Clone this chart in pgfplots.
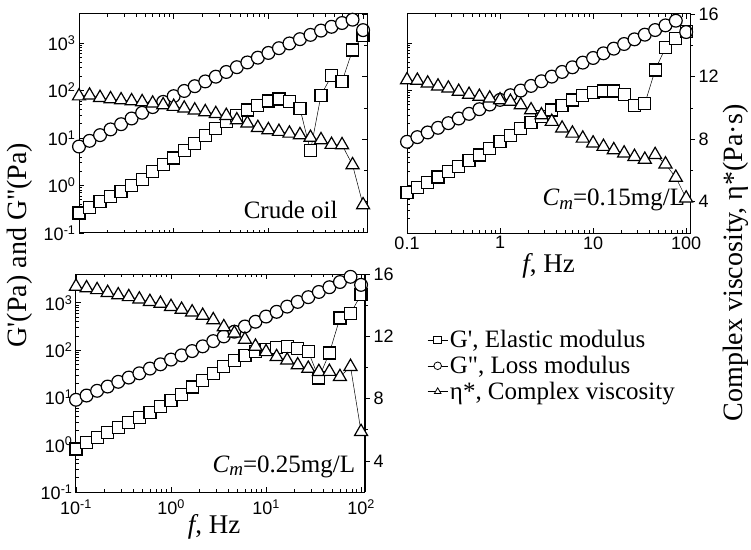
\documentclass[border=0pt]{standalone}
\usepackage{pgfplots}
\usepackage{pgfplotstable}
\pgfplotsset{compat=1.18}
\usepackage{fontspec}
\setmainfont{Liberation Serif}
\newfontfamily\arial{Liberation Sans}

\pgfplotstableread{
f Gp Gpp eta
0.1 0.263 6.61 10.75
0.1292 0.347 8.71 10.80
0.1668 0.457 11.48 10.65
0.2154 0.589 15.14 10.57
0.2783 0.759 19.5 10.50
0.3594 1.0 25.7 10.44
0.4642 1.349 33.9 10.38
0.5995 1.995 44.7 10.29
0.7743 2.754 57.5 10.18
1 3.802 75.9 10.08
1.292 5.495 97.7 9.97
1.668 7.762 123 9.85
2.154 11.22 155 9.74
2.783 15.85 195 9.62
3.594 21.88 245 9.50
4.642 30.2 309 9.22
5.995 38.9 389 9.01
7.743 48.98 490 8.73
10 60.26 617 8.59
12.92 66.07 776 8.48
16.68 58.88 977 8.37
21.54 41.69 1202 8.27
27.83 5.37 1479 8.10
35.94 79.43 1820 7.95
46.42 204.2 2188 7.65
59.95 154.9 2630 7.63
77.43 707.9 3090 6.35
100 1413 1862 3.79
}\tltab

\pgfplotstableread{
f Gp Gpp eta
0.1 0.708 8.32 11.78
0.1292 0.912 10.42 11.75
0.1668 1.175 13.06 11.57
0.2154 1.514 16.37 11.38
0.2783 1.950 20.51 11.25
0.3594 2.512 25.70 11.04
0.4642 3.311 32.21 10.85
0.5995 4.365 40.36 10.72
0.7743 6.026 50.58 10.61
1 8.318 63.39 10.50
1.292 11.48 79.43 10.40
1.668 15.85 99.5 10.18
2.154 21.38 124.7 9.86
2.783 28.84 156.3 9.54
3.594 38.9 195.9 9.12
4.642 48.98 245.5 8.69
5.995 63.1 307.6 8.37
7.743 79.43 385.5 8.05
10 91.2 483.1 7.74
12.92 97.7 605.3 7.52
16.68 97.7 758.6 7.31
21.54 83.2 950.6 7.10
27.83 48.98 1191 6.88
35.94 52.5 1493 6.70
46.42 269.2 1871 7.00
59.95 794.3 2344 6.40
77.43 1259 2938 5.55
100 1738 1698 4.22
}\trtab

\pgfplotstableread{
f Gp Gpp eta
0.1 0.813 8.91 15.2
0.1292 1.096 10.96 15.1
0.1668 1.413 13.80 14.98
0.2154 1.820 16.98 14.8
0.2783 2.291 21.38 14.65
0.3594 2.951 26.30 14.53
0.4642 3.715 32.36 14.38
0.5995 4.786 40.74 14.22
0.7743 6.31 50.12 14.1
1 8.51 63.10 13.9
1.292 11.75 77.62 13.72
1.668 16.6 95.5 13.55
2.154 22.9 120.2 13.33
2.783 32.4 154.9 13.05
3.594 44.7 195 12.6
4.642 60.3 245.5 12.2
5.995 75.9 316.2 11.8
7.743 93.3 398.1 11.35
10 104.7 512.9 11.0
12.92 114.8 645.7 10.68
16.68 120.2 831.8 10.46
21.54 109.6 1047 10.15
27.83 93.3 1318 9.93
35.94 25.7 1698 9.72
46.42 87.1 2138 9.73
59.95 478.6 2754 9.4
77.43 602.6 3548 10.05
100 1479 2399 5.87
}\bltab

\tikzset{
  sq/.style={black, line width=0.5pt, mark=square*, mark size=6pt, mark options={fill=white, draw=black, line width=1.2pt, solid}},
  ci/.style={black, line width=0.5pt, mark=*, mark size=6.4pt, mark options={fill=white, draw=black, line width=1.2pt, solid}},
  tri/.style={black, line width=0.5pt, mark=triangle*, mark size=7.5pt, mark options={fill=white, draw=black, line width=1.2pt, solid}},
}
\newcommand{\tfont}{\arial\fontsize{18}{18}\selectfont}

\begin{document}
\begin{tikzpicture}
\path[use as bounding box] (0pt,0pt) rectangle (751pt,549pt);

% ---------- top-left: crude oil
\begin{axis}[scale only axis, at={(79pt,316pt)}, anchor=south west, width=288pt, height=219pt,
  xmode=log, ymode=log, xmin=0.1, xmax=110, ymin=0.1, ymax=4070,
  xtick={0.1,1,10,100}, ytick={0.1,1,10,100,1000}, ytick pos=left, tick align=inside,
  axis line style={line width=1pt}, major tick length=5pt, minor tick length=3pt,
  every tick/.append style={line width=0.7pt, black},
  tick label style={font=\tfont},
  xticklabels={},
  yticklabels={10\textsuperscript{-1},10\textsuperscript{0},10\textsuperscript{1},10\textsuperscript{2},10\textsuperscript{3}}]
\addplot[sq] table[x=f,y=Gp]{\tltab};
\addplot[ci] table[x=f,y=Gpp]{\tltab};
\node[anchor=east, font=\fontsize{25}{25}\selectfont] at (rel axis cs:0.91,0.105) {Crude oil};
\end{axis}
\begin{axis}[scale only axis, at={(79pt,316pt)}, anchor=south west, width=288pt, height=219pt,
  xmode=log, xmin=0.1, xmax=110, ymin=2, ymax=16,
  axis x line=none, axis y line*=right, y axis line style={-, line width=1pt},
  ytick={4,8,12,16}, minor ytick={6,10,14}, major tick length=5pt, minor tick length=3pt,
  every tick/.append style={line width=0.7pt, black},
  yticklabels={}, tick align=inside]
\addplot[tri] table[x=f,y=eta]{\tltab};
\end{axis}

% ---------- top-right: Cm = 0.15
\begin{axis}[scale only axis, at={(407pt,316pt)}, anchor=south west, width=283pt, height=219pt,
  xmode=log, ymode=log, xmin=0.1, xmax=110, ymin=0.1, ymax=4070,
  xtick={0.1,1,10,100}, ytick={0.1,1,10,100,1000}, ytick pos=left, tick align=inside,
  axis line style={line width=1pt}, major tick length=5pt, minor tick length=3pt,
  every tick/.append style={line width=0.7pt, black},
  tick label style={font=\tfont},
  yticklabels={}, xticklabels={0.1,1,10,100},
  xlabel={{\itshape f}, Hz},
  xlabel style={font=\fontsize{27}{27}\selectfont, at={(axis description cs:0.5,0)}, anchor=center, yshift=-33pt}]
\addplot[sq] table[x=f,y=Gp]{\trtab};
\addplot[ci] table[x=f,y=Gpp]{\trtab};
\node[anchor=east, font=\fontsize{25}{25}\selectfont] at (rel axis cs:0.995,0.15) {{\itshape C\raisebox{-0.3ex}{\fontsize{19}{19}\selectfont m}}=0.15mg/L};
\end{axis}
\begin{axis}[scale only axis, at={(407pt,316pt)}, anchor=south west, width=283pt, height=219pt,
  xmode=log, xmin=0.1, xmax=110, ymin=2, ymax=16,
  axis x line=none, axis y line*=right, y axis line style={-, line width=1pt},
  ytick={4,8,12,16}, minor ytick={6,10,14}, major tick length=5pt, minor tick length=3pt,
  every tick/.append style={line width=0.7pt, black},
  /pgf/number format/assume math mode=true,
  tick label style={font=\tfont}, tick align=outside]
\addplot[tri] table[x=f,y=eta]{\trtab};
\end{axis}

% ---------- bottom-left: Cm = 0.25
\begin{axis}[scale only axis, at={(76pt,57pt)}, anchor=south west, width=289pt, height=218pt,
  xmode=log, ymode=log, xmin=0.1, xmax=110, ymin=0.1, ymax=4070,
  xtick={0.1,1,10,100}, ytick={0.1,1,10,100,1000}, ytick pos=left, tick align=inside,
  axis line style={line width=1pt}, major tick length=5pt, minor tick length=3pt,
  every tick/.append style={line width=0.7pt, black},
  tick label style={font=\tfont},
  xticklabel style={yshift=-4pt},
  yticklabels={10\textsuperscript{-1},10\textsuperscript{0},10\textsuperscript{1},10\textsuperscript{2},10\textsuperscript{3}},
  xticklabels={10\textsuperscript{-1},10\textsuperscript{0},10\textsuperscript{1},10\textsuperscript{2}},
  xlabel={{\itshape f}, Hz},
  xlabel style={font=\fontsize{27}{27}\selectfont, at={(axis description cs:0.478,0)}, anchor=center, yshift=-35pt}]
\addplot[sq] table[x=f,y=Gp]{\bltab};
\addplot[ci] table[x=f,y=Gpp]{\bltab};
\node[anchor=east, font=\fontsize{25}{25}\selectfont] at (rel axis cs:0.978,0.115) {{\itshape C\raisebox{-0.3ex}{\fontsize{19}{19}\selectfont m}}=0.25mg/L};
\end{axis}
\begin{axis}[scale only axis, at={(76pt,57pt)}, anchor=south west, width=289pt, height=218pt,
  xmode=log, xmin=0.1, xmax=110, ymin=2, ymax=16,
  axis x line=none, axis y line*=right, y axis line style={-, line width=1pt},
  ytick={4,8,12,16}, minor ytick={6,10,14}, major tick length=5pt, minor tick length=3pt,
  every tick/.append style={line width=0.7pt, black},
  /pgf/number format/assume math mode=true,
  tick label style={font=\tfont}, tick align=outside,
  legend style={at={(1.205,0.76)}, anchor=north west, draw=none, fill=none,
    font=\fontsize{25}{25}\selectfont, row sep=3pt},
  legend cell align=left,
  legend image code/.code={\draw[mark repeat=2,mark phase=2,#1] plot coordinates {(0pt,0pt) (10pt,0pt) (20pt,0pt)};},
  legend image post style={mark size=3.8pt, mark options={line width=0.8pt, fill=white}}]
\addlegendimage{sq}
\addlegendentry{G\textquotesingle, Elastic modulus}
\addlegendimage{ci}
\addlegendentry{G\textquotedbl, Loss modulus}
\addplot[tri] table[x=f,y=eta]{\bltab};
\addlegendentry{η*, Complex viscosity}
\end{axis}

% ---------- common axis titles
\node[rotate=90, font=\fontsize{28}{28}\selectfont] at (20pt,304pt) {G\textquotesingle(Pa) and G\textquotedbl(Pa)};
\node[rotate=90, font=\fontsize{28}{28}\selectfont] at (736pt,286pt) {Complex viscosity, η*(Pa·s)};
\end{tikzpicture}
\end{document}
